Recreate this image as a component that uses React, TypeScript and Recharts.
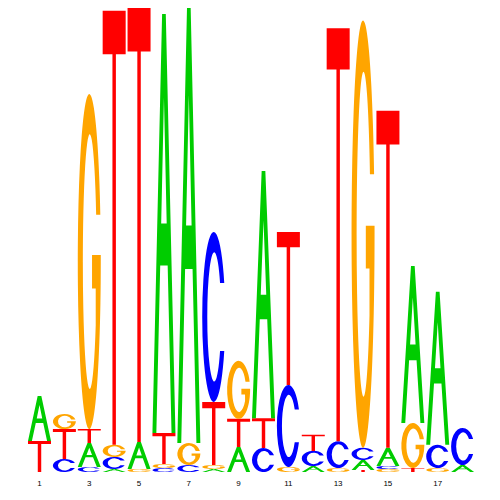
import React from 'react';
import { BarChart, Bar, XAxis, YAxis } from 'recharts';

// Sequence positions (x-axis categories)
const positions = ['1', '2', '3', '4', '5', '6', '7', '8', '9', '10', '11', '12', '13', '14', '15', '16', '17', '18'];

// Letter stacking order at each position, bottom -> top
const stackOrder = ['TA', 'CTG', 'CATG', 'ACGT', 'GAT', 'CGTA', 'CGA', 'AGTC', 'ATG', 'CTA', 'GCT', 'ACT', 'GCT', 'TACG', 'GCAT', 'TGA', 'GCA', 'AC'];

// Letter heights (bits) per position
const heightA = [0.194, 0, 0.103, 0.013, 0.116, 1.806, 1.875, 0.013, 0.108, 1.065, 0, 0.026, 0, 0.043, 0.078, 0.677, 0.66, 0.03];
const heightC = [0, 0.056, 0.022, 0.052, 0, 0.017, 0.03, 0.733, 0, 0.103, 0.353, 0.065, 0.116, 0.052, 0.013, 0, 0.1, 0.16];
const heightG = [0, 0.065, 1.444, 0.052, 0.013, 0.017, 0.095, 0.017, 0.25, 0, 0.022, 0, 0.017, 1.842, 0.013, 0.194, 0.017, 0];
const heightT = [0.134, 0.129, 0.06, 1.871, 1.871, 0.134, 0, 0.272, 0.121, 0.129, 0.66, 0.07, 1.78, 0.009, 1.453, 0.017, 0, 0];

const heights: Record<string, number[]> = { A: heightA, C: heightC, G: heightG, T: heightT };
const colors: Record<string, string> = { A: '#00CC00', C: '#0000FF', G: '#FFA500', T: '#FF0000' };

// Unit-box glyph outlines (y grows downward)
const glyphs: Record<string, string> = {
  A: 'M0,1 L0.42,0 L0.58,0 L1,1 L0.83,1 L0.662,0.6 L0.338,0.6 L0.17,1 Z M0.38,0.5 L0.5,0.2 L0.62,0.5 Z',
  T: 'M0,0 L1,0 L1,0.1 L0.575,0.1 L0.575,1 L0.425,1 L0.425,0.1 L0,0.1 Z',
  C: 'M0.958,0.3 A0.5,0.5 0 1 0 0.958,0.7 L0.775,0.7 A0.3,0.38 0 1 1 0.775,0.3 Z',
  G: 'M0.98,0.36 A0.5,0.5 0 1 0 1,0.5 L1,0.48 L0.62,0.48 L0.62,0.58 L0.78,0.58 L0.78,0.69 A0.3,0.38 0 1 1 0.799,0.36 Z',
};

const data = positions.map((pos, i) => {
  const row: Record<string, string | number> = { pos };
  for (let k = 0; k < 4; k++) {
    const letter = stackOrder[i][k];
    row[`s${k}`] = letter ? heights[letter][i] : 0;
    row[`l${k}`] = letter || '';
  }
  return row;
});

const makeShape = (k: number) => (props: any) => {
  const { x, y, width, height, payload } = props;
  const letter = payload ? payload[`l${k}`] : '';
  if (!letter || !height || height <= 0 || !width) return <g />;
  return (
    <g transform={`translate(${x},${y}) scale(${width},${height})`}>
      <path d={glyphs[letter]} fill={colors[letter]} fillRule="evenodd" />
    </g>
  );
};

export default function App() {
  return (
    <div style={{ position: 'absolute', left: 0, top: 0, width: 500, height: 500, background: '#fff' }}>
      <BarChart
        width={500}
        height={500}
        data={data}
        margin={{ top: 8, right: 25, left: 27, bottom: 8 }}
        barSize={23}
      >
        <XAxis
          dataKey="pos"
          interval={1}
          axisLine={false}
          tickLine={false}
          height={20}
          tick={{ fontSize: 8, fill: '#000', fontFamily: 'Liberation Sans, Arial, sans-serif' }}
        />
        <YAxis hide domain={[0, 2]} />
        {[0, 1, 2, 3].map((k) => (
          <Bar key={k} dataKey={`s${k}`} stackId="a" isAnimationActive={false} shape={makeShape(k)} />
        ))}
      </BarChart>
    </div>
  );
}
